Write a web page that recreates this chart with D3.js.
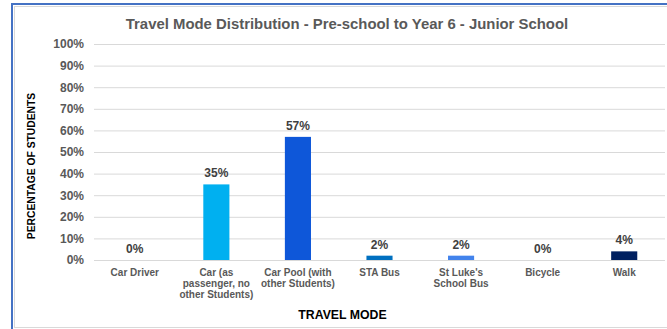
<!DOCTYPE html>
<html>
<head>
<meta charset="utf-8">
<script src="https://cdn.jsdelivr.net/npm/d3@7"></script>
<style>
  html, body { margin: 0; padding: 0; background: #fff; }
  svg { display: block; }
  text { font-family: "Liberation Sans", Arial, sans-serif; }
</style>
</head>
<body>
<svg id="chart" width="667" height="329"></svg>
<script>
// Travel mode survey, junior school
const categories = [
  ["Car Driver"],
  ["Car (as", "passenger, no", "other Students)"],
  ["Car Pool (with", "other Students)"],
  ["STA Bus"],
  ["St Luke's", "School Bus"],
  ["Bicycle"],
  ["Walk"]
];
const values = [0, 35, 57, 2, 2, 0, 4];
const barColors = ["#00B0F0", "#00B0F0", "#0E57D9", "#0070C0", "#4283EC", "#00B0F0", "#002060"];
const yTicks = [0, 10, 20, 30, 40, 50, 60, 70, 80, 90, 100];

const svg = d3.select("#chart");
const W = 667, H = 329;
const plot = { left: 94, right: 665, top: 44, bottom: 260 };

// outer frame
svg.append("rect").attr("x", 12).attr("y", 4).attr("width", W).attr("height", H)
  .attr("fill", "#fff").attr("stroke", "#4472C4").attr("stroke-width", 2);
svg.append("rect").attr("x", 14.5).attr("y", 6.5).attr("width", W).attr("height", 321)
  .attr("fill", "none").attr("stroke", "#D9D9D9").attr("stroke-width", 1);

const x = d3.scaleBand().domain(d3.range(categories.length))
  .range([plot.left, plot.right]).paddingInner(0.68).paddingOuter(0.34);
const y = d3.scaleLinear().domain([0, 100]).range([plot.bottom, plot.top]);

// gridlines + y ticks
const yAxis = d3.axisLeft(y).tickValues(yTicks).tickFormat(d => d + "%")
  .tickSize(-(plot.right - plot.left)).tickPadding(10);
const gy = svg.append("g").attr("transform", `translate(${plot.left},0)`).call(yAxis);
gy.select(".domain").remove();
gy.selectAll(".tick line").attr("stroke", "#D9D9D9").attr("stroke-width", 1);
gy.selectAll(".tick text").attr("fill", "#595959").attr("font-size", 12)
  .attr("font-weight", "bold").attr("font-family", "Liberation Sans, Arial, sans-serif");

// bars
svg.append("g").selectAll("rect").data(values).join("rect")
  .attr("x", (d, i) => x(i)).attr("width", x.bandwidth())
  .attr("y", d => y(d)).attr("height", d => y(0) - y(d))
  .attr("fill", (d, i) => barColors[i]);

// value labels
svg.append("g").selectAll("text").data(values).join("text")
  .attr("x", (d, i) => x(i) + x.bandwidth() / 2)
  .attr("y", d => y(d) - 7)
  .attr("text-anchor", "middle").attr("font-size", 12).attr("font-weight", "bold")
  .attr("fill", "#404040").text(d => d + "%");

// category labels
const gx = svg.append("g");
categories.forEach((lines, i) => {
  const t = gx.append("text").attr("x", x(i) + x.bandwidth() / 2).attr("y", 275.5)
    .attr("text-anchor", "middle").attr("font-size", 10).attr("font-weight", "bold")
    .attr("fill", "#595959");
  lines.forEach((ln, j) => t.append("tspan").attr("x", x(i) + x.bandwidth() / 2)
    .attr("dy", j === 0 ? 0 : 11.3).text(ln));
});

// titles
svg.append("text").attr("x", 347).attr("y", 28.5).attr("text-anchor", "middle")
  .attr("font-size", 14.9).attr("font-weight", "bold").attr("fill", "#595959")
  .text("Travel Mode Distribution - Pre-school to Year 6 - Junior School");
svg.append("text").attr("x", 342.5).attr("y", 319).attr("text-anchor", "middle")
  .attr("font-size", 12.3).attr("font-weight", "bold").attr("fill", "#000")
  .text("TRAVEL MODE");
svg.append("text").attr("transform", "translate(35,166) rotate(-90)")
  .attr("text-anchor", "middle").attr("font-size", 10.3).attr("font-weight", "bold")
  .attr("fill", "#000").text("PERCENTAGE OF STUDENTS");
</script>
</body>
</html>
